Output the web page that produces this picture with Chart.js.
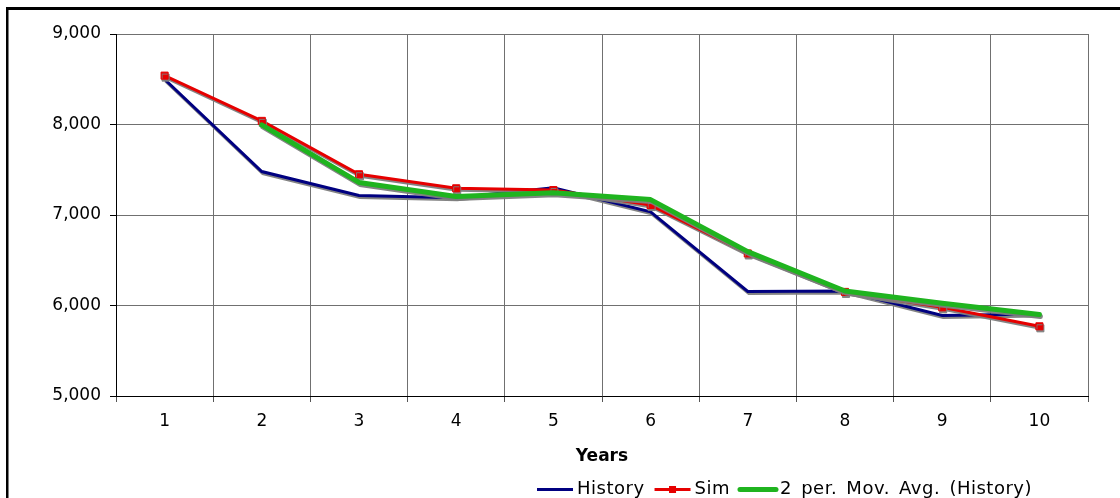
<!DOCTYPE html>
<html>
<head>
<meta charset="utf-8">
<script src="https://cdn.jsdelivr.net/npm/chart.js@4"></script>
<style>
    html, body { margin: 0; padding: 0; background: #fff; }
    canvas { display: block; }
</style>
</head>
<body>
<canvas id="simChart" width="1120" height="498"></canvas>
<script>
const years = ['1', '2', '3', '4', '5', '6', '7', '8', '9', '10']
const history = [8500, 7480, 7215, 7190, 7300, 7035, 6155, 6160, 5890, 5905]
const sim = [8540, 8040, 7450, 7295, 7275, 7110, 6575, 6150, 5980, 5770]
const movAvg = [null, 7995, 7360, 7205, 7245, 7170, 6595, 6160, 6025, 5900]
const yMin = 5000
const yMax = 9000
const yStep = 1000

Chart.defaults.font.family = "'DejaVu Sans', Verdana, sans-serif"
Chart.defaults.font.size = 17
Chart.defaults.color = '#000'

// grey drop shadow under every series
const lineShadow = {
    id: 'lineShadow',
    beforeDatasetDraw(chart) {
        const ctx = chart.ctx
        ctx.save()
        ctx.shadowColor = 'rgba(125, 125, 125, 0.95)'
        ctx.shadowOffsetX = 1
        ctx.shadowOffsetY = 2
        ctx.shadowBlur = 0
    },
    afterDatasetDraw(chart) {
        chart.ctx.restore()
    },
}

// outer frame + legend row at the bottom
const frameAndLegend = {
    id: 'frameAndLegend',
    afterDraw(chart) {
        const ctx = chart.ctx
        ctx.save()
        ctx.fillStyle = '#000'
        ctx.fillRect(6, 7, chart.width - 6, 3)
        ctx.fillRect(6, 7, 2.5, chart.height - 7)

        const y = 489.5
        let x = 537
        ctx.font = "18px 'DejaVu Sans'"
        ctx.letterSpacing = '0.5px'
        ctx.wordSpacing = '3px'
        ctx.textBaseline = 'middle'
        ctx.textAlign = 'left'
        chart.data.datasets.forEach((ds) => {
            ctx.strokeStyle = ds.borderColor
            ctx.lineWidth = ds.borderWidth
            ctx.lineCap = ds.borderCapStyle || 'butt'
            ctx.beginPath()
            ctx.moveTo(x, y)
            ctx.lineTo(x + 36, y)
            ctx.stroke()
            if (ds.pointRadius > 0) {
                ctx.fillStyle = ds.borderColor
                ctx.fillRect(x + 14.5, y - 3.5, 7, 7)
            }
            ctx.fillStyle = '#000'
            ctx.fillText(ds.label, x + 40, y)
            x += 40 + ctx.measureText(ds.label).width + 10
        })
        ctx.restore()
    },
}

const ctx = document.querySelector('#simChart').getContext('2d')

const simChart = new Chart(ctx, {
    type: 'line',
    data: {
        labels: years,
        datasets: [
            {
                label: 'History',
                data: history,
                borderColor: '#000080',
                borderWidth: 3,
                pointRadius: 0,
                tension: 0,
                order: 2,
            },
            {
                label: 'Sim',
                data: sim,
                borderColor: '#e60000',
                backgroundColor: '#e60000',
                borderWidth: 3,
                pointStyle: 'rect',
                pointRadius: 5,
                pointBorderWidth: 1,
                tension: 0,
                order: 1,
            },
            {
                label: '2 per. Mov. Avg. (History)',
                data: movAvg,
                borderColor: '#1fb41f',
                borderWidth: 5,
                borderCapStyle: 'round',
                borderJoinStyle: 'round',
                pointRadius: 0,
                tension: 0,
                order: 0,
            },
        ],
    },
    options: {
        responsive: false,
        animation: false,
        layout: {
            padding: { top: 34, right: 32, left: 0, bottom: 0 },
        },
        plugins: {
            legend: { display: false },
            tooltip: { enabled: false },
        },
        scales: {
            x: {
                offset: true,
                grid: {
                    offset: true,
                    color: '#707070',
                    tickColor: '#555',
                    tickLength: 6,
                },
                border: { color: '#000', width: 1 },
                ticks: { padding: 9 },
                title: {
                    display: true,
                    text: 'Years',
                    font: { weight: 'bold', size: 17 },
                    padding: { top: 0, bottom: 31 },
                },
                afterFit(scale) {
                    scale.height = 102
                },
            },
            y: {
                min: yMin,
                max: yMax,
                ticks: {
                    stepSize: yStep,
                    padding: 9,
                    callback: (v) => v.toLocaleString('en-US'),
                },
                grid: {
                    color: '#707070',
                    tickColor: '#000',
                    tickLength: 6,
                },
                border: { color: '#000', width: 1 },
                afterFit(scale) {
                    scale.width = 116
                },
            },
        },
    },
    plugins: [lineShadow, frameAndLegend],
})
</script>
</body>
</html>
